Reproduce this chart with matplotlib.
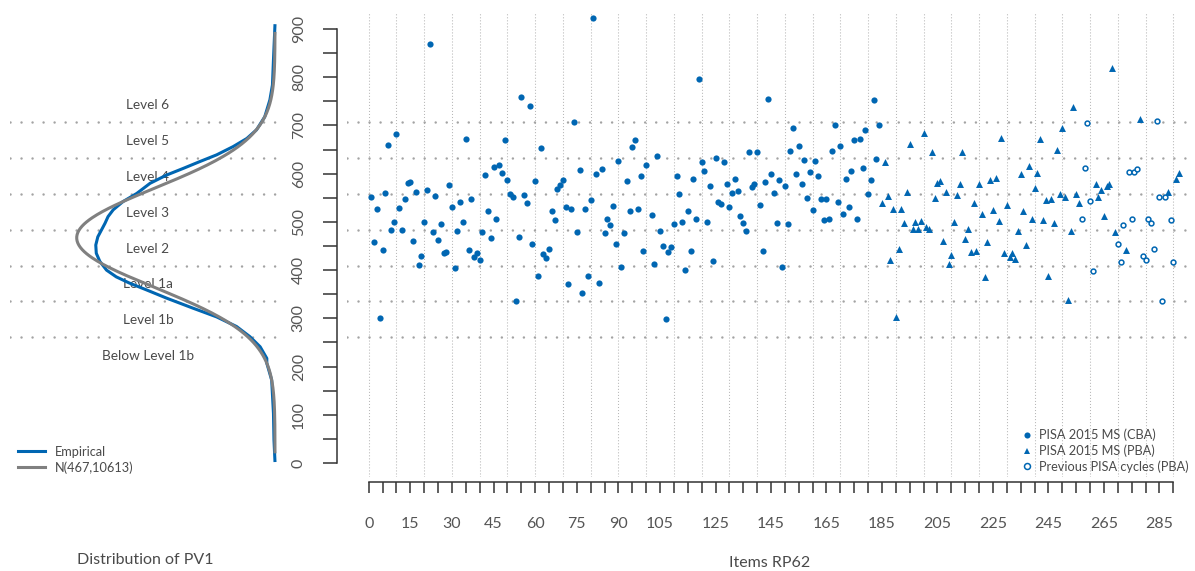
import numpy as np
import matplotlib
matplotlib.use("Agg")
import matplotlib.pyplot as plt
from matplotlib.lines import Line2D
from matplotlib.ticker import FixedLocator, FixedFormatter

plt.rcParams['font.family'] = ['Lato', 'DejaVu Sans']

# ---------------- data ----------------
cba_items = [1, 2, 3, 4, 5, 6, 7, 8, 9, 10, 11, 12, 13, 14, 15, 16, 17, 18, 19, 20,
             21, 22, 23, 24, 25, 26, 27, 28, 29, 30, 31, 32, 33, 34, 35, 36, 37, 38, 39, 40,
             41, 42, 43, 44, 45, 46, 47, 48, 49, 50, 51, 52, 53, 54, 55, 56, 57, 58, 59, 60,
             61, 62, 63, 64, 65, 66, 67, 68, 69, 70, 71, 72, 73, 74, 75, 76, 77, 78, 79, 80,
             81, 82, 83, 84, 85, 86, 87, 88, 89, 90, 91, 92, 93, 94, 95, 96, 97, 98, 99, 100,
             102, 103, 104, 105, 106, 107, 108, 109, 110, 111, 112, 113, 114, 115, 116, 117,
             118, 119, 120, 121, 122, 123, 124, 125, 126, 127, 128, 129, 130, 131, 132, 133,
             134, 135, 136, 137, 138, 139, 140, 141, 142, 143, 144, 145, 146, 147, 148, 149,
             150, 151, 152, 153, 154, 155, 156, 157, 158, 159, 160, 161, 162, 163, 164, 165,
             166, 167, 168, 169, 170, 171, 172, 173, 174, 175, 176, 177, 178, 179, 180, 181,
             182, 183, 184]
cba_scores = [552, 458, 526, 301, 442, 559, 659, 484, 500, 682, 528, 484, 547, 580, 583, 460, 561, 411, 430, 499,
              566, 868, 478, 554, 462, 496, 436, 438, 577, 530, 404, 482, 542, 499, 671, 442, 548, 427, 435, 422,
              480, 597, 522, 467, 613, 505, 617, 601, 670, 587, 557, 551, 336, 469, 760, 556, 539, 740, 455, 585,
              387, 654, 433, 426, 444, 523, 503, 569, 577, 587, 531, 371, 527, 708, 480, 608, 353, 527, 387, 545,
              922, 599, 373, 609, 477, 505, 494, 533, 454, 626, 407, 477, 585, 523, 655, 669, 527, 596, 440, 617,
              514, 412, 636, 482, 449, 298, 437, 447, 496, 596, 557, 500, 400, 522, 440, 589,
              506, 796, 624, 605, 500, 574, 418, 633, 541, 537, 624, 578, 530, 559, 588, 565,
              512, 498, 482, 644, 572, 578, 644, 536, 440, 583, 754, 599, 560, 498, 586, 406,
              575, 496, 648, 694, 599, 657, 578, 629, 550, 603, 524, 626, 596, 548, 503, 547,
              507, 648, 700, 541, 658, 517, 589, 530, 605, 669, 505, 671, 611, 691, 558, 586,
              753, 630, 701]

pba_items = [185, 186, 187, 188, 189, 190, 191, 192, 193, 194, 195, 196, 197, 198, 199, 200,
             201, 202, 203, 204, 205, 206, 207, 208, 209, 210, 211, 212, 213, 214, 215, 216,
             217, 218, 219, 220, 221, 222, 223, 224, 225, 226, 227, 228, 229, 230, 231, 232,
             233, 234, 235, 236, 237, 238, 239, 240, 241, 242, 243, 244, 245, 246, 247, 248,
             249, 250, 251, 252, 253, 254, 255, 256, 262, 263, 264, 265, 266, 267, 268, 269,
             273, 278, 288, 291, 292]
pba_scores = [539, 625, 554, 420, 527, 302, 443, 527, 498, 561, 661, 486, 500, 485, 502, 684,
              490, 485, 645, 549, 581, 584, 461, 563, 412, 431, 500, 556, 579, 644, 464, 485,
              437, 539, 440, 579, 517, 385, 459, 586, 525, 590, 501, 673, 435, 534, 428, 436,
              424, 482, 599, 523, 453, 615, 506, 570, 602, 671, 503, 545, 387, 547, 498, 649,
              558, 695, 552, 337, 482, 738, 557, 540, 579, 552, 567, 513, 575, 578, 819, 480,
              441, 713, 561, 588, 601]

prev_items = [257, 258, 259, 260, 261, 270, 271, 272, 274, 275, 276, 277, 279, 280, 281, 282,
              283, 284, 285, 286, 287, 289, 290]
prev_scores = [506, 611, 706, 543, 398, 454, 416, 494, 603, 507, 603, 610, 429, 420, 506, 497,
               444, 709, 552, 335, 552, 503, 417]

# proficiency level cut-offs and labels
level_cuts = [260.54, 334.94, 409.54, 484.14, 558.73, 633.33, 707.93]
level_names = ["Below Level 1b", "Level 1b", "Level 1a", "Level 2", "Level 3",
               "Level 4", "Level 5", "Level 6"]

# empirical density of PV1 (density x 1e-3)
emp_score = [910, 836, 784, 753, 718, 691, 673, 656, 639, 625, 611, 597, 580, 559, 542,
             525, 511, 497, 483, 469, 452, 435, 418, 400, 386, 373, 359, 342, 321, 303,
             283, 262, 241, 217, 207, 172, 103, 48, 2]
emp_dens = [0.0, 0.03, 0.05, 0.10, 0.20, 0.36, 0.55, 0.82, 1.14, 1.47, 1.79, 2.12, 2.44, 2.70, 2.97,
            3.16, 3.26, 3.32, 3.39, 3.46, 3.50, 3.49, 3.42, 3.29, 3.10, 2.84, 2.51, 2.12, 1.60, 1.14,
            0.75, 0.49, 0.29, 0.16, 0.16, 0.065, 0.03, 0.02, 0.0]

norm_mean = 467
norm_var = 10613
norm_range = (20, 894)

x_ticks = list(range(0, 291, 5))
x_labels = [0, 15, 30, 45, 60, 75, 90, 105, 125, 145, 165, 185, 205, 225, 245, 265, 285]
y_ticks = list(range(0, 901, 50))
y_labels = list(range(0, 901, 100))

# ---------------- style ----------------
BLUE = '#0066b2'
GRAY_CURVE = '#808080'
TXT = '#4a4a4a'
LVL_COLOR = '#a3a3a3'
GRID_COLOR = '#b8b8b8'

W, H = 1195, 571
fig = plt.figure(figsize=(W / 100, H / 100), dpi=100)

def fx(px):
    return px / W

def fy(py):
    return 1 - py / H

y_top_px, y_bot_px = 13, 477
ylim = ((463 - y_bot_px) / 0.48222, (463 - y_top_px) / 0.48222)

# right panel
axR = fig.add_axes([fx(347), fy(y_bot_px), fx(1195) - fx(347), fy(y_top_px) - fy(y_bot_px)])
axR.set_xlim((347 - 368.7) / 2.7745, (1195 - 368.7) / 2.7745)
axR.set_ylim(*ylim)

# left panel
axL = fig.add_axes([fx(10), fy(y_bot_px), fx(280) - fx(10), fy(y_top_px) - fy(y_bot_px)])
axL.set_ylim(*ylim)
px_dens = 0.0038725e3 / 198.3
axL.set_xlim((275 - 10) * px_dens, (275 - 280) * px_dens)
axL.axis('off')

# level lines
for ax in (axL, axR):
    for c in level_cuts:
        ax.axhline(c, color=LVL_COLOR, lw=1.8, linestyle=(0, (0.01, 4.4)),
                   dash_capstyle='round', zorder=1)

# vertical grid lines in right panel
for gx in range(0, 291, 10):
    axR.axvline(gx, color=GRID_COLOR, lw=0.75, linestyle=(0, (1, 1.9)), zorder=0)

# scatter
axR.scatter(cba_items, cba_scores, s=20, marker='o', color=BLUE, linewidths=0, zorder=3)
axR.scatter(pba_items, pba_scores, s=25, marker='^', color=BLUE, linewidths=0, zorder=3)
axR.scatter(prev_items, prev_scores, s=12, marker='o', facecolors='white',
            edgecolors=BLUE, linewidths=1.1, zorder=3)

# axes styling (R like)
for side in ('top', 'right'):
    axR.spines[side].set_visible(False)
axR.spines['left'].set_position(('outward', 7.2))
axR.spines['left'].set_bounds(0, 900)
axR.spines['bottom'].set_position(('outward', 3.6))
axR.spines['bottom'].set_bounds(0, 290)
for side in ('left', 'bottom'):
    axR.spines[side].set_color('#333333')
    axR.spines[side].set_linewidth(1.1)

axR.yaxis.set_major_locator(FixedLocator(y_ticks))
axR.yaxis.set_major_formatter(FixedFormatter([str(v) if v in y_labels else '' for v in y_ticks]))
axR.xaxis.set_major_locator(FixedLocator(x_ticks))
axR.xaxis.set_major_formatter(FixedFormatter([str(v) if v in x_labels else '' for v in x_ticks]))
axR.tick_params(axis='y', length=10, width=1.1, color='#333333', pad=12.5,
                labelsize=11.5, labelcolor='#555555')
axR.tick_params(axis='x', length=8, width=1.1, color='#333333', pad=17,
                labelsize=11.5, labelcolor='#555555')
for lab in axR.get_yticklabels():
    lab.set_rotation(90)
    lab.set_va('center')

# density curves
axL.plot(emp_dens, emp_score, color=BLUE, lw=2.2, zorder=3, solid_capstyle='butt')
ns = np.linspace(norm_range[0], norm_range[1], 400)
nd = 1e3 * np.exp(-(ns - norm_mean) ** 2 / (2 * norm_var)) / np.sqrt(2 * np.pi * norm_var)
axL.plot(nd, ns, color=GRAY_CURVE, lw=2.2, zorder=4, solid_capstyle='butt')

# level labels
half = (level_cuts[1] - level_cuts[0]) / 2
label_x = (275 - 148) * px_dens
for i, name in enumerate(level_names):
    lo = level_cuts[i - 1] if i > 0 else level_cuts[0] - 2 * half
    hi = level_cuts[i] if i < len(level_cuts) else level_cuts[-1] + 2 * half
    axL.text(label_x, (lo + hi) / 2, name, ha='center', va='center_baseline',
             fontsize=9.8, color=TXT, zorder=2)

# legends
hL = [Line2D([], [], color=BLUE, lw=2.2), Line2D([], [], color=GRAY_CURVE, lw=2.2)]
axL.legend(hL, ["Empirical", "N(467,10613)"], loc='lower left',
           bbox_to_anchor=(0.0, -0.009), frameon=False, fontsize=9.2,
           handlelength=2.1, handletextpad=0.8, labelspacing=0.25,
           borderaxespad=0.2, labelcolor=TXT)

hR = [Line2D([], [], marker='o', linestyle='none', color=BLUE, markersize=4.4, markeredgewidth=0),
      Line2D([], [], marker='^', linestyle='none', color=BLUE, markersize=4.9, markeredgewidth=0),
      Line2D([], [], marker='o', linestyle='none', markerfacecolor='white', markeredgecolor=BLUE,
             markersize=4.3, markeredgewidth=1.1)]
axR.legend(hR, ["PISA 2015 MS (CBA)", "PISA 2015 MS (PBA)", "Previous PISA cycles (PBA)"],
           loc='lower right', bbox_to_anchor=(1.0, -0.005), frameon=False, fontsize=9.2,
           handlelength=1.0, handletextpad=0.45, labelspacing=0.25, borderaxespad=0.1,
           labelcolor=TXT)

# titles
fig.text(fx(145), fy(560), "Distribution of PV1", ha='center', va='center',
         fontsize=11.5, color=TXT)
fig.text(fx(770), fy(563), "Items RP62", ha='center', va='center',
         fontsize=11.5, color=TXT)

fig.savefig("out.png", dpi=100)
